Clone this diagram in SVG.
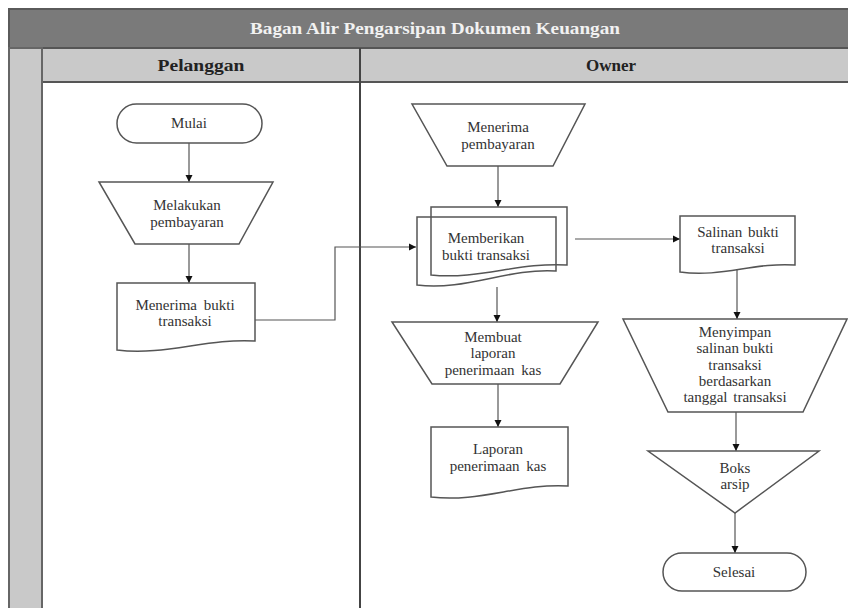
<svg xmlns="http://www.w3.org/2000/svg" width="848" height="608" viewBox="0 0 848 608" font-family="Liberation Serif, serif">
<defs>
<style>
.sh{fill:#fff;stroke:#555;stroke-width:1.5}
.nf{fill:none;stroke:#555;stroke-width:1.5}
.cn{fill:none;stroke:#555;stroke-width:1.2}
.t{font-size:15px;fill:#333;text-anchor:middle}
.h{font-weight:bold;text-anchor:middle}
</style>
<marker id="ar" markerWidth="8" markerHeight="8" refX="7" refY="4" orient="auto" markerUnits="userSpaceOnUse">
<path d="M0,0.5 L7,4 L0,7.5 Z" fill="#111"/>
</marker>
</defs>
<g id="frame">
<rect x="9" y="9" width="860" height="39" fill="#7a7a7a" stroke="#5a5a5a" stroke-width="2"/>
<rect x="9" y="48" width="860" height="34" fill="#c9c9c9" stroke="#555" stroke-width="2"/>
<rect x="9" y="48" width="33" height="570" fill="#c9c9c9" stroke="#666" stroke-width="2"/>
<line x1="360" y1="48" x2="360" y2="608" stroke="#444" stroke-width="2"/>
<text class="h" font-family="Liberation Serif" x="435" y="34" font-size="17" fill="#f2f2f2" textLength="370" lengthAdjust="spacingAndGlyphs">Bagan Alir Pengarsipan Dokumen Keuangan</text>
<text class="h" font-family="Liberation Serif" x="201" y="71" font-size="17" fill="#222" textLength="87" lengthAdjust="spacingAndGlyphs">Pelanggan</text>
<text class="h" font-family="Liberation Serif" x="611" y="71" font-size="17" fill="#222">Owner</text>
</g>
<g id="connectors">
<line class="cn" x1="189" y1="143" x2="189" y2="182" marker-end="url(#ar)"/>
<line class="cn" x1="189" y1="244" x2="189" y2="283" marker-end="url(#ar)"/>
<path class="cn" d="M255,320 H335 V247 H416" marker-end="url(#ar)"/>
<line class="cn" x1="498" y1="166" x2="498" y2="207" marker-end="url(#ar)"/>
<line class="cn" x1="575" y1="239" x2="680" y2="239" marker-end="url(#ar)"/>
<line class="cn" x1="497" y1="287" x2="497" y2="322" marker-end="url(#ar)"/>
<line class="cn" x1="498" y1="384" x2="498" y2="427" marker-end="url(#ar)"/>
<line class="cn" x1="737" y1="270" x2="737" y2="319" marker-end="url(#ar)"/>
<line class="cn" x1="736" y1="412" x2="736" y2="451" marker-end="url(#ar)"/>
<line class="cn" x1="735" y1="513" x2="735" y2="553" marker-end="url(#ar)"/>
</g>
<g id="mulai">
<rect class="sh" x="117" y="104" width="145" height="39" rx="19.5"/>
<text class="t" font-family="Liberation Serif" x="189" y="128">Mulai</text>
</g>
<g id="melakukan-pembayaran">
<polygon class="sh" points="99,182 273,182 239,244 135,244"/>
<text class="t" font-family="Liberation Serif" x="187" y="210">Melakukan</text>
<text class="t" font-family="Liberation Serif" x="187" y="227">pembayaran</text>
</g>
<g id="menerima-bukti">
<path class="sh" d="M117,283 H255 V341 C207,338 165,356 117,350 Z"/>
<text class="t" font-family="Liberation Serif" x="185" y="310" word-spacing="3">Menerima bukti</text>
<text class="t" font-family="Liberation Serif" x="185" y="326">transaksi</text>
</g>
<g id="menerima-pembayaran">
<polygon class="sh" points="412,104 585,104 553,166 447,166"/>
<text class="t" font-family="Liberation Serif" x="498" y="132">Menerima</text>
<text class="t" font-family="Liberation Serif" x="498" y="149">pembayaran</text>
</g>
<g id="memberikan-bukti">
<path class="nf" d="M431,207 H567 V265 C519,262 479,280 431,275 Z"/>
<path class="nf" d="M417,217 H556 V271 C507,268 466,291 417,285 Z"/>
<text class="t" font-family="Liberation Serif" x="486" y="243">Memberikan</text>
<text class="t" font-family="Liberation Serif" x="486" y="260">bukti transaksi</text>
</g>
<g id="salinan-bukti">
<path class="sh" d="M680,216 H795 V265 C755,262 720,278 680,272 Z"/>
<text class="t" font-family="Liberation Serif" x="738" y="237" word-spacing="2">Salinan bukti</text>
<text class="t" font-family="Liberation Serif" x="738" y="253">transaksi</text>
</g>
<g id="membuat-laporan">
<polygon class="sh" points="392,322 598,322 560,384 432,384"/>
<text class="t" font-family="Liberation Serif" x="493" y="342">Membuat</text>
<text class="t" font-family="Liberation Serif" x="493" y="358">laporan</text>
<text class="t" font-family="Liberation Serif" x="493" y="375" word-spacing="3">penerimaan kas</text>
</g>
<g id="laporan-penerimaan">
<path class="sh" d="M431,427 H568 V486 C520,483 479,503 431,497 Z"/>
<text class="t" font-family="Liberation Serif" x="498" y="454">Laporan</text>
<text class="t" font-family="Liberation Serif" x="498" y="471" word-spacing="3">penerimaan kas</text>
</g>
<g id="menyimpan-salinan">
<polygon class="sh" points="623,319 847,319 803,412 668,412"/>
<text class="t" font-family="Liberation Serif" x="735" y="337">Menyimpan</text>
<text class="t" font-family="Liberation Serif" x="735" y="353">salinan bukti</text>
<text class="t" font-family="Liberation Serif" x="735" y="370">transaksi</text>
<text class="t" font-family="Liberation Serif" x="735" y="386">berdasarkan</text>
<text class="t" font-family="Liberation Serif" x="735" y="402" word-spacing="2">tanggal transaksi</text>
</g>
<g id="boks-arsip">
<polygon class="sh" points="648,451 819,451 735,513"/>
<text class="t" font-family="Liberation Serif" x="735" y="473">Boks</text>
<text class="t" font-family="Liberation Serif" x="735" y="489">arsip</text>
</g>
<g id="selesai">
<rect class="sh" x="663" y="553" width="143" height="38" rx="19"/>
<text class="t" font-family="Liberation Serif" x="734" y="577">Selesai</text>
</g>
</svg>
